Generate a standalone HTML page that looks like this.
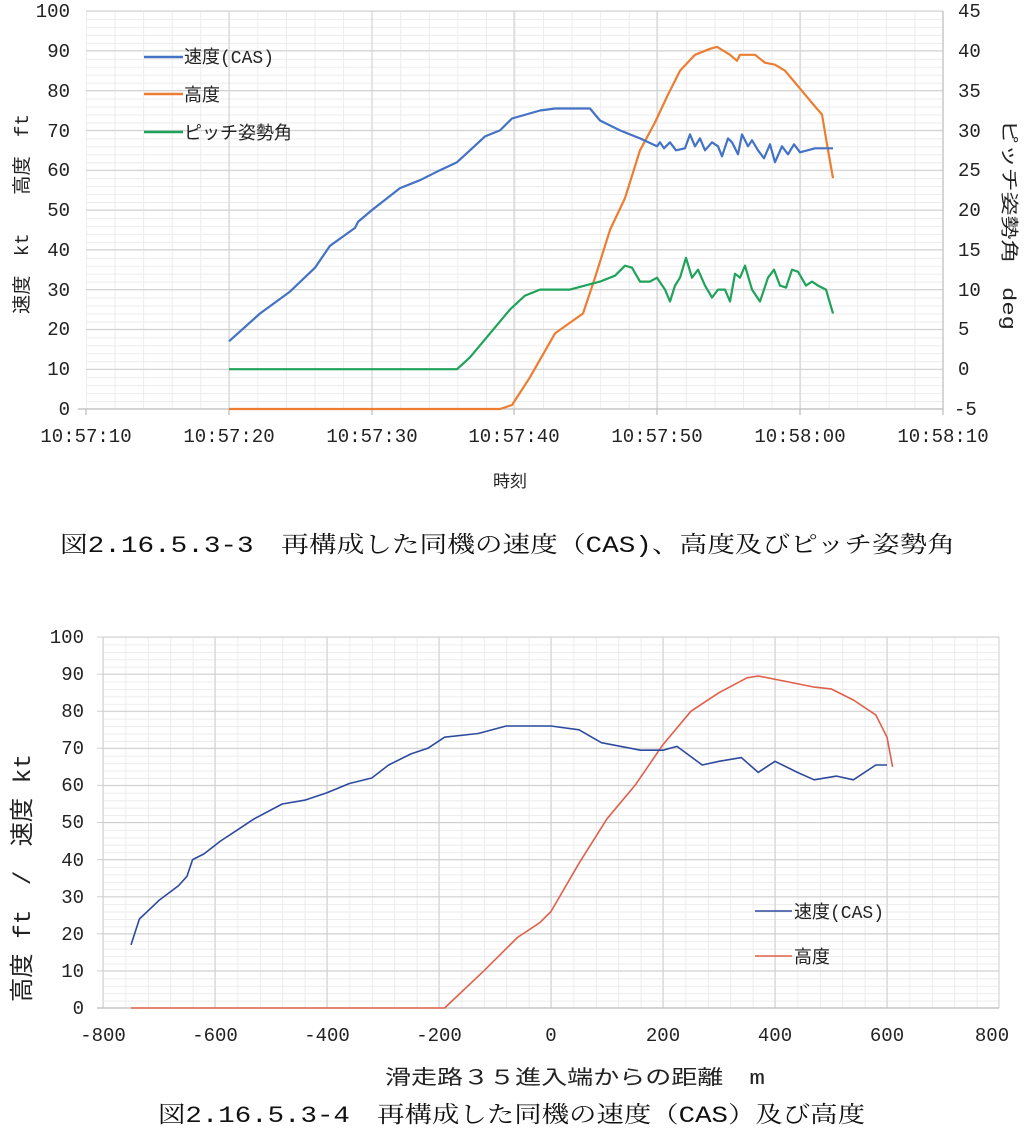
<!DOCTYPE html>
<html><head><meta charset="utf-8"><style>
body{margin:0;background:#fff}
svg{display:block}
text{font-family:"Liberation Mono","Noto Sans CJK JP",monospace;fill:#222}
.c{font-family:"Liberation Mono","Noto Serif CJK JP",serif;font-size:23px;fill:#111}
</style></head><body>
<svg width="1024" height="1130" viewBox="0 0 1024 1130" xmlns="http://www.w3.org/2000/svg">
<defs>
<pattern id="pt" patternUnits="userSpaceOnUse" x="86" y="11" width="28.5667" height="7.96">
<path d="M0.5 0V7.96M0 0.5H28.5667" stroke="#ececec" stroke-width="1" fill="none"/>
</pattern>
<pattern id="pb" patternUnits="userSpaceOnUse" x="103" y="637" width="22.4" height="7.42">
<path d="M0.5 0V7.42M0 0.5H22.4" stroke="#ececec" stroke-width="1" fill="none"/>
</pattern>
</defs>
<!-- TOP CHART -->
<rect x="86" y="11" width="857" height="398" fill="url(#pt)"/>
<g stroke="#cfcfcf" stroke-width="1">
<line x1="86" y1="11" x2="943" y2="11"/><line x1="86" y1="50.8" x2="943" y2="50.8"/><line x1="86" y1="90.6" x2="943" y2="90.6"/><line x1="86" y1="130.4" x2="943" y2="130.4"/><line x1="86" y1="170.2" x2="943" y2="170.2"/><line x1="86" y1="210" x2="943" y2="210"/><line x1="86" y1="249.8" x2="943" y2="249.8"/><line x1="86" y1="289.6" x2="943" y2="289.6"/><line x1="86" y1="329.4" x2="943" y2="329.4"/><line x1="86" y1="369.2" x2="943" y2="369.2"/>
<line x1="229" y1="11" x2="229" y2="409"/><line x1="372" y1="11" x2="372" y2="409"/><line x1="514" y1="11" x2="514" y2="409"/><line x1="657" y1="11" x2="657" y2="409"/><line x1="800" y1="11" x2="800" y2="409"/>
</g>
<g stroke="#bbb" stroke-width="1.2">
<line x1="78" y1="409" x2="943" y2="409"/><line x1="943" y1="11" x2="943" y2="409"/>
<line x1="86" y1="409" x2="86" y2="415"/><line x1="229" y1="409" x2="229" y2="415"/><line x1="372" y1="409" x2="372" y2="415"/><line x1="514" y1="409" x2="514" y2="415"/><line x1="657" y1="409" x2="657" y2="415"/><line x1="800" y1="409" x2="800" y2="415"/><line x1="943" y1="409" x2="943" y2="415"/>
</g>
<g font-size="19" text-anchor="end">
<text x="70" y="17">100</text><text x="70" y="57">90</text><text x="70" y="97">80</text><text x="70" y="137">70</text><text x="70" y="176">60</text><text x="70" y="216">50</text><text x="70" y="256">40</text><text x="70" y="296">30</text><text x="70" y="335">20</text><text x="70" y="375">10</text><text x="70" y="415">0</text>
</g>
<g font-size="19" text-anchor="start">
<text x="958" y="17">45</text><text x="958" y="57">40</text><text x="958" y="97">35</text><text x="958" y="137">30</text><text x="958" y="176">25</text><text x="958" y="216">20</text><text x="958" y="256">15</text><text x="958" y="296">10</text><text x="958" y="335">5</text><text x="958" y="375">0</text><text x="954" y="415">-5</text>
</g>
<g font-size="19" text-anchor="middle">
<text x="86" y="442">10:57:10</text><text x="229" y="442">10:57:20</text><text x="372" y="442">10:57:30</text><text x="514" y="442">10:57:40</text><text x="657" y="442">10:57:50</text><text x="800" y="442">10:58:00</text><text x="943" y="442">10:58:10</text>
</g>
<text x="510" y="487" font-size="17" text-anchor="middle">時刻</text>
<text transform="translate(28,314) rotate(-90)" font-size="19" textLength="200" lengthAdjust="spacingAndGlyphs">速度　kt　　高度　ft</text>
<text transform="translate(1003,120) rotate(90)" font-size="18" textLength="210" lengthAdjust="spacingAndGlyphs">ピッチ姿勢角　deg</text>
<line x1="144" y1="57" x2="183" y2="57" stroke="#4472c4" stroke-width="2.5"/>
<line x1="144" y1="94" x2="183" y2="94" stroke="#ed7d31" stroke-width="2.5"/>
<line x1="144" y1="132" x2="183" y2="132" stroke="#1fa35a" stroke-width="2.5"/>
<g font-size="18"><text x="184" y="63">速度(CAS)</text><text x="184" y="101">高度</text><text x="184" y="139">ピッチ姿勢角</text></g>
<g fill="none" stroke-width="2.2" stroke-linejoin="round">
<polyline stroke="#ed7d31" points="229,409 500,409 512,405 530,377.2 555,333.4 583,313.5 595,277.7 610,229.9 625,198.1 640,150.3 655,122.4 668,94.6 680,70.7 695,54.8 710,48.8 717,46.8 730,54.8 737,60.8 740,54.8 755,54.8 765,62.7 775,64.7 785,70.7 795,82.6 805,94.6 815,106.5 822,114.5 826,138.4 833,178.2"/>
<polyline stroke="#1fa35a" points="229,369.2 457,369.2 470,357.3 490,333.4 510,309.5 525,295.6 540,289.6 570,289.6 585,285.6 600,281.6 615,275.7 625,265.7 632,267.7 640,281.6 650,281.6 657,277.7 665,289.6 670,301.5 675,285.6 680,277.7 686,257.8 692,277.7 698,269.7 705,285.6 712,297.6 718,289.6 725,289.6 730,301.5 735,273.7 740,277.7 745,265.7 752,289.6 760,301.5 768,277.7 774,269.7 780,285.6 786,287.6 792,269.7 798,271.7 806,285.6 812,281.6 818,285.6 826,289.6 833,313.5"/>
<polyline stroke="#4472c4" points="229,341.3 260,313.5 290,291.6 315,267.7 330,245.8 355,227.9 358,221.9 372,210 400,188.1 420,180.2 440,170.2 457,162.2 470,150.3 485,136.4 500,130.4 512,118.5 540,110.5 555,108.5 590,108.5 600,120.5 620,130.4 640,138.4 657,146.3 660,142.3 664,148.3 670,142.3 676,150.3 685,148.3 690,134.4 695,146.3 700,138.4 705,150.3 712,142.3 718,146.3 722,156.3 728,138.4 732,142.3 738,154.3 742,134.4 748,146.3 752,140.3 758,150.3 764,158.3 770,144.3 775,162.2 782,146.3 788,154.3 794,144.3 800,152.3 815,148.3 833,148.3"/>
</g>
<text class="c" x="60" y="552" textLength="895" lengthAdjust="spacingAndGlyphs">図2.16.5.3-3　再構成した同機の速度（CAS)、高度及びピッチ姿勢角</text>
<!-- BOTTOM CHART -->
<rect x="103" y="637" width="896" height="371" fill="url(#pb)"/>
<g stroke="#cfcfcf" stroke-width="1">
<line x1="103" y1="637" x2="103" y2="1008"/><line x1="215" y1="637" x2="215" y2="1008"/><line x1="327" y1="637" x2="327" y2="1008"/><line x1="439" y1="637" x2="439" y2="1008"/><line x1="551" y1="637" x2="551" y2="1008"/><line x1="663" y1="637" x2="663" y2="1008"/><line x1="775" y1="637" x2="775" y2="1008"/><line x1="887" y1="637" x2="887" y2="1008"/><line x1="999" y1="637" x2="999" y2="1008"/>
<line x1="97" y1="637" x2="999" y2="637"/><line x1="97" y1="674.1" x2="999" y2="674.1"/><line x1="97" y1="711.2" x2="999" y2="711.2"/><line x1="97" y1="748.3" x2="999" y2="748.3"/><line x1="97" y1="785.4" x2="999" y2="785.4"/><line x1="97" y1="822.5" x2="999" y2="822.5"/><line x1="97" y1="859.6" x2="999" y2="859.6"/><line x1="97" y1="896.7" x2="999" y2="896.7"/><line x1="97" y1="933.8" x2="999" y2="933.8"/><line x1="97" y1="970.9" x2="999" y2="970.9"/>
</g>
<g stroke="#bbb" stroke-width="1.2"><line x1="97" y1="1008" x2="999" y2="1008"/></g>
<g font-size="19" text-anchor="end">
<text x="84" y="643">100</text><text x="84" y="680">90</text><text x="84" y="717">80</text><text x="84" y="754">70</text><text x="84" y="791">60</text><text x="84" y="828">50</text><text x="84" y="866">40</text><text x="84" y="903">30</text><text x="84" y="940">20</text><text x="84" y="977">10</text><text x="84" y="1014">0</text>
</g>
<g font-size="19" text-anchor="middle">
<text x="103" y="1041">-800</text><text x="215" y="1041">-600</text><text x="327" y="1041">-400</text><text x="439" y="1041">-200</text><text x="551" y="1041">0</text><text x="663" y="1041">200</text><text x="775" y="1041">400</text><text x="887" y="1041">600</text><text x="992" y="1041">800</text>
</g>
<text transform="translate(30,1002) rotate(-90)" font-size="24" textLength="248" lengthAdjust="spacingAndGlyphs">高度 ft　/　速度 kt</text>
<text x="385" y="1084" font-size="20" textLength="380" lengthAdjust="spacingAndGlyphs">滑走路３５進入端からの距離　m</text>
<line x1="755" y1="911" x2="792" y2="911" stroke="#2e4a9e" stroke-width="1.6"/>
<line x1="755" y1="956" x2="792" y2="956" stroke="#e0604a" stroke-width="1.6"/>
<g font-size="18"><text x="794" y="918">速度(CAS)</text><text x="794" y="963">高度</text></g>
<g fill="none" stroke-width="1.6" stroke-linejoin="round">
<polyline stroke="#e0604a" points="131,1008 444.6,1008 483.8,970.9 517.4,937.5 539.8,922.7 551,911.5 579,863.3 607,818.8 635,785.4 663,744.6 691,711.2 719,692.7 747,677.8 758.2,676 786.2,681.5 814.2,687.1 831,688.9 853.4,700 875.8,714.9 887,737.2 892.6,766.9"/>
<polyline stroke="#2e4a9e" points="131,944.9 139.4,919 159,900.4 178.6,885.6 187,876.3 192.6,859.6 203.8,854 220.6,841 237.4,829.9 254.2,818.8 282.2,804 304.6,800.2 327,792.8 349.4,783.5 371.8,778 388.6,765 411,753.9 427.8,748.3 444.6,737.2 478.2,733.5 506.2,726 551,726 579,729.8 601.4,742.7 640.6,750.2 663,750.2 677,746.4 702.2,765 719,761.3 741.4,757.6 758.2,772.4 775,761.3 797.4,772.4 814.2,779.8 836.6,776.1 853.4,779.8 875.8,765 887,765"/>
</g>
<text class="c" x="158" y="1122" textLength="707" lengthAdjust="spacingAndGlyphs">図2.16.5.3-4　再構成した同機の速度（CAS）及び高度</text>
</svg>
</body></html>
